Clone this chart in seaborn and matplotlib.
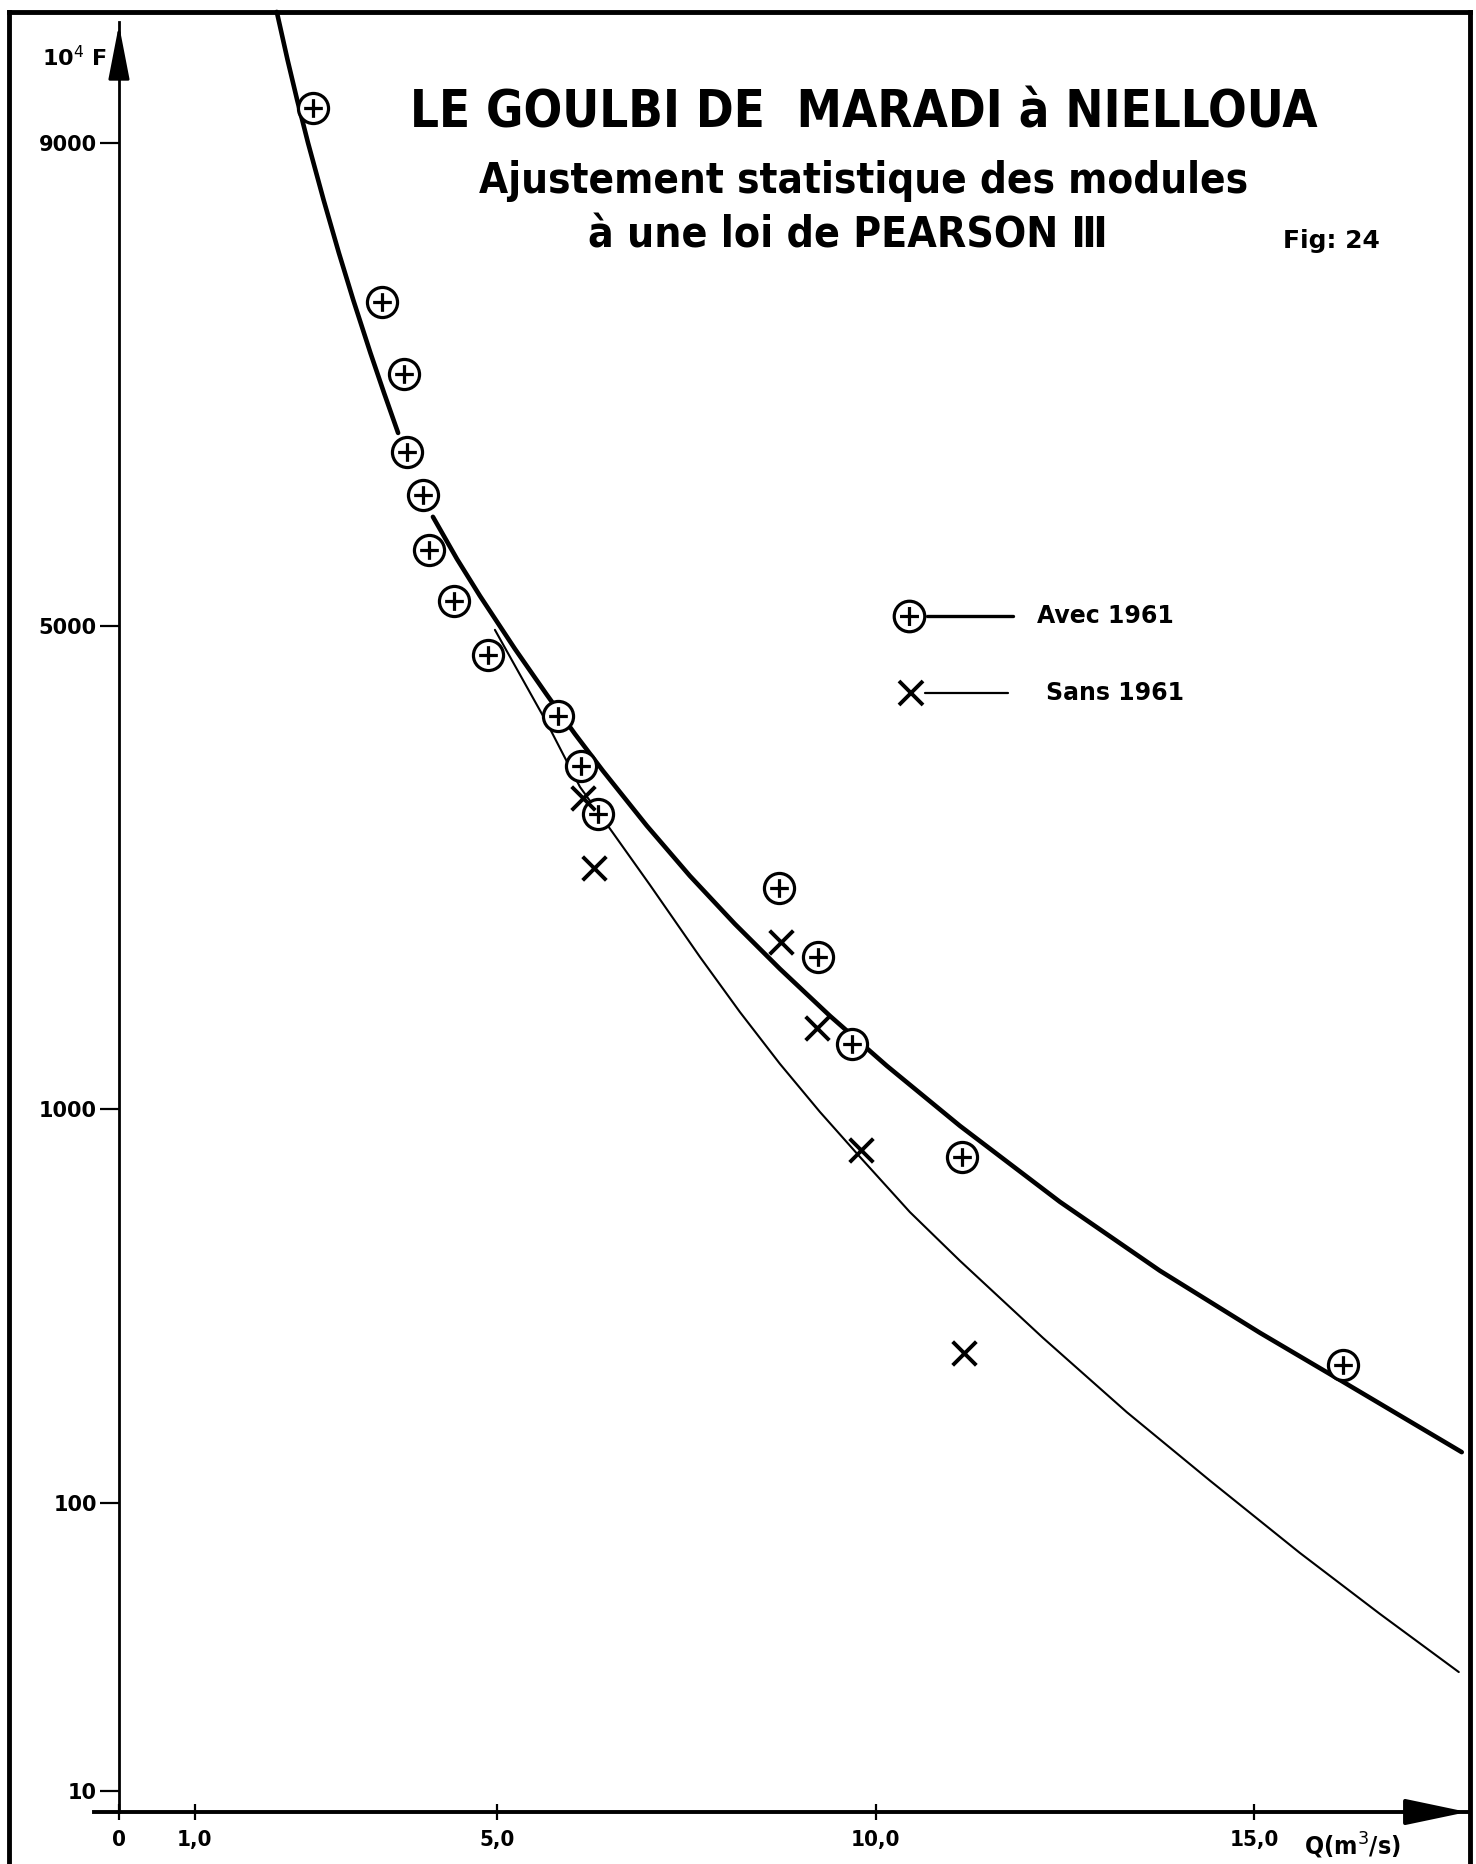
import numpy as np
import pandas as pd
import matplotlib
matplotlib.use("Agg")
import matplotlib.pyplot as plt
import seaborn as sns
from statistics import NormalDist
from matplotlib.path import Path
from matplotlib.lines import Line2D
from matplotlib.ticker import NullLocator
from matplotlib import font_manager as fm

# ---------------- data (Q in m3/s, 10^4 F) ----------------
q_avec = [2.56, 3.47, 3.77, 3.80, 4.02, 4.10, 4.43, 4.87, 5.80, 6.10, 6.33, 8.72, 9.24, 9.69, 11.14, 16.17]
f_avec = [9153, 8049, 7480, 6778, 6359, 5799, 5263, 4687, 4056, 3553, 3085, 2435, 1901, 1335, 794, 250]

q_sans = [6.13, 6.28, 8.75, 9.22, 9.81, 11.17]
f_sans = [3242, 2606, 2006, 1432, 822, 269]

# fitted curve "Avec 1961" (drawn in two pieces, hidden behind two points)
curve_avec_upper_q = [2.085, 2.227, 2.354, 2.498, 2.703, 2.905, 3.095, 3.322, 3.502, 3.688]
curve_avec_upper_f = [9483, 9334, 9185, 8999, 8708, 8388, 8064, 7655, 7317, 6956]
curve_avec_lower_q = [4.148, 4.465, 4.769, 5.231, 5.654, 6.024, 6.394, 6.975, 7.543, 8.137,
                      8.732, 9.392, 10.145, 11.110, 12.431, 13.752, 15.073, 16.169, 17.741]
curve_avec_lower_f = [6138, 5705, 5317, 4757, 4274, 3872, 3503, 2979, 2536, 2146,
                      1815, 1505, 1216, 924, 633, 436, 304, 225, 142]

# fitted curve "Sans 1961"
curve_sans_q = [4.967, 5.654, 6.090, 6.526, 7.015, 7.675, 8.203, 8.732, 9.260, 9.789,
                10.449, 11.110, 12.206, 13.316, 14.412, 15.601, 16.658, 17.702]
curve_sans_f = [4958, 3985, 3347, 2915, 2460, 1900, 1529, 1227, 987, 795,
                600, 461, 295, 185, 117, 69.7, 43.9, 27.6]

x_ticks = [0, 1, 5, 10, 15]
x_tick_labels = ["0", "1,0", "5,0", "10,0", "15,0"]
y_ticks = [10, 100, 1000, 5000, 9000]
y_tick_labels = ["10", "100", "1000", "5000", "9000"]

title1 = "LE GOULBI DE  MARADI à NIELLOUA"
title2 = "Ajustement statistique des modules"
title3 = "à une loi de PEARSON Ⅲ"
fig_label = "Fig: 24"
legend_labels = ["Avec 1961", "Sans 1961"]

# ---------------- style ----------------
sns.set_style("white")
plt.rcParams["font.family"] = ["DejaVu Sans"]
for k in ["text.color", "axes.labelcolor", "xtick.color", "ytick.color", "axes.edgecolor"]:
    plt.rcParams[k] = "black"

# pick a narrow / condensed face if one is installed
entries = fm.fontManager.ttflist
names = {f.name for f in entries}
cond_kw = dict(family=["DejaVu Sans"])
if "Liberation Sans Narrow" in names:
    cond_kw = dict(family=["Liberation Sans Narrow", "DejaVu Sans"])
else:
    for fam in ["DejaVu Sans", "Roboto", "Open Sans", "Noto Sans", "Inter", "Lato"]:
        if any(f.name == fam and str(f.stretch) in ("condensed", "semi-condensed", "extra-condensed")
               for f in entries):
            cond_kw = dict(family=[fam, "DejaVu Sans"], fontstretch="condensed")
            break

W, H = 1476, 1864
fig = plt.figure(figsize=(W / 100, H / 100), dpi=100)
ax = fig.add_axes([94 / W, (H - 1812) / H, 1376 / W, 1790 / H])

ND = NormalDist()
_ppf = np.vectorize(ND.inv_cdf, otypes=[float])
_cdf = np.vectorize(ND.cdf, otypes=[float])


def fwd(y):
    y = np.asarray(y, dtype=float)
    p = np.clip(y / 1e4, 1e-9, 1 - 1e-9)
    return _ppf(p)


def inv(z):
    z = np.asarray(z, dtype=float)
    return _cdf(z) * 1e4


ax.set_yscale("function", functions=(fwd, inv))

# circle with plus marker
circ_plus = Path.make_compound_path(
    Path.unit_circle(),
    Path([[-0.62, 0], [0.62, 0]], [Path.MOVETO, Path.LINETO]),
    Path([[0, -0.62], [0, 0.62]], [Path.MOVETO, Path.LINETO]),
)

df_cu = pd.DataFrame({"Q": curve_avec_upper_q, "F": curve_avec_upper_f})
df_cl = pd.DataFrame({"Q": curve_avec_lower_q, "F": curve_avec_lower_f})
df_cs = pd.DataFrame({"Q": curve_sans_q, "F": curve_sans_f})
df_a = pd.DataFrame({"Q": q_avec, "F": f_avec})
df_s = pd.DataFrame({"Q": q_sans, "F": f_sans})

for d in (df_cu, df_cl):
    sns.lineplot(data=d, x="Q", y="F", ax=ax, color="black", lw=3.3,
                 estimator=None, sort=False, zorder=2)
ax.lines[0].set_clip_on(False)
sns.lineplot(data=df_cs, x="Q", y="F", ax=ax, color="black", lw=1.5,
             estimator=None, sort=False, zorder=2)
sns.scatterplot(data=df_a, x="Q", y="F", ax=ax, marker=circ_plus, s=470,
                facecolor="white", edgecolor="black", linewidth=2.3, zorder=3)
sns.scatterplot(data=df_s, x="Q", y="F", ax=ax, marker="x", s=290,
                color="black", linewidth=2.8, zorder=3)

ax.set_xlim(-0.33, 17.85)
ax.set_ylim(8.27, 9454)
ax.set_xlabel("")
ax.set_ylabel("")

for s in ["top", "right"]:
    ax.spines[s].set_visible(False)
ax.spines["left"].set_position(("data", 0))
ax.spines["left"].set_linewidth(2.0)
ax.spines["bottom"].set_linewidth(2.8)

ax.set_yticks(y_ticks, y_tick_labels)
ax.yaxis.set_minor_locator(NullLocator())
ax.set_xticks(x_ticks, x_tick_labels)
ax.tick_params(axis="y", direction="out", length=14, width=1.6, pad=2,
               labelsize=15, left=True)
ax.tick_params(axis="x", direction="inout", length=12, width=1.6, pad=7,
               labelsize=16, bottom=True)
for lab in ax.get_yticklabels():
    lab.set_fontweight("bold")
for lab in ax.get_xticklabels():
    lab.set_fontweight("bold")
    lab.set_family(cond_kw["family"])
    if "fontstretch" in cond_kw:
        lab.set_fontstretch(cond_kw["fontstretch"])

# axis arrows
ax.annotate("", xy=(0, 1.0), xytext=(0, 0.975), xycoords=("data", "axes fraction"),
            textcoords=("data", "axes fraction"),
            arrowprops=dict(arrowstyle="-|>,head_length=1.7,head_width=0.33",
                            color="black", lw=2, mutation_scale=20))
ax.annotate("", xy=(1.0, 0), xytext=(0.97, 0), xycoords=("axes fraction", "axes fraction"),
            textcoords=("axes fraction", "axes fraction"),
            arrowprops=dict(arrowstyle="-|>,head_length=1.9,head_width=0.4",
                            color="black", lw=2.8, mutation_scale=20))


def fx(px):
    return px / W


def fy(py):
    return 1 - py / H


# axis titles
fig.text(fx(74), fy(58), "10$^4$ F", ha="center", va="center",
         fontsize=16, fontweight="bold")
fig.text(fx(1352), fy(1846), "Q(m$^3$/s)", ha="center", va="center",
         fontsize=18, fontweight="bold", **cond_kw)

# titles, sized to the reference widths
renderer = fig.canvas.get_renderer()


def fitted_text(cx, cy, s, width_px, **kw):
    t = fig.text(fx(cx), fy(cy), s, ha="center", va="center", fontsize=40,
                 fontweight="bold", **kw)
    w = t.get_window_extent(renderer).width
    t.set_fontsize(40 * width_px / w)
    return t


fitted_text(864, 113, title1, 909, **cond_kw)
fitted_text(864, 181, title2, 767, **cond_kw)
fitted_text(848, 235, title3, 520, **cond_kw)
fig.text(fx(1331), fy(241), fig_label, ha="center", va="center",
         fontsize=18, fontweight="bold")

# manual legend
fig.add_artist(Line2D([fx(927), fx(1013)], [fy(616), fy(616)], color="black", lw=2.4,
                      transform=fig.transFigure))
fig.add_artist(Line2D([fx(909)], [fy(616)], marker=circ_plus, ms=22, mfc="white",
                      mec="black", mew=2.3, ls="none", transform=fig.transFigure))
fig.text(fx(1037), fy(616), legend_labels[0], ha="left", va="center",
         fontsize=17, fontweight="bold")
fig.add_artist(Line2D([fx(925), fx(1008)], [fy(693), fy(693)], color="black", lw=1.6,
                      transform=fig.transFigure))
fig.add_artist(Line2D([fx(911)], [fy(693)], marker="x", ms=17, mec="black",
                      mew=2.8, ls="none", transform=fig.transFigure))
fig.text(fx(1046), fy(693), legend_labels[1], ha="left", va="center",
         fontsize=17, fontweight="bold")

# page frame
for xs, ys in [([fx(9), fx(9)], [0, fy(12)]),
               ([fx(9), fx(1470)], [fy(12), fy(12)]),
               ([fx(1470), fx(1470)], [fy(12), 0])]:
    fig.add_artist(Line2D(xs, ys, color="black", lw=3.5, transform=fig.transFigure,
                          solid_capstyle="projecting"))

fig.savefig("out.png", dpi=100, facecolor="white")
